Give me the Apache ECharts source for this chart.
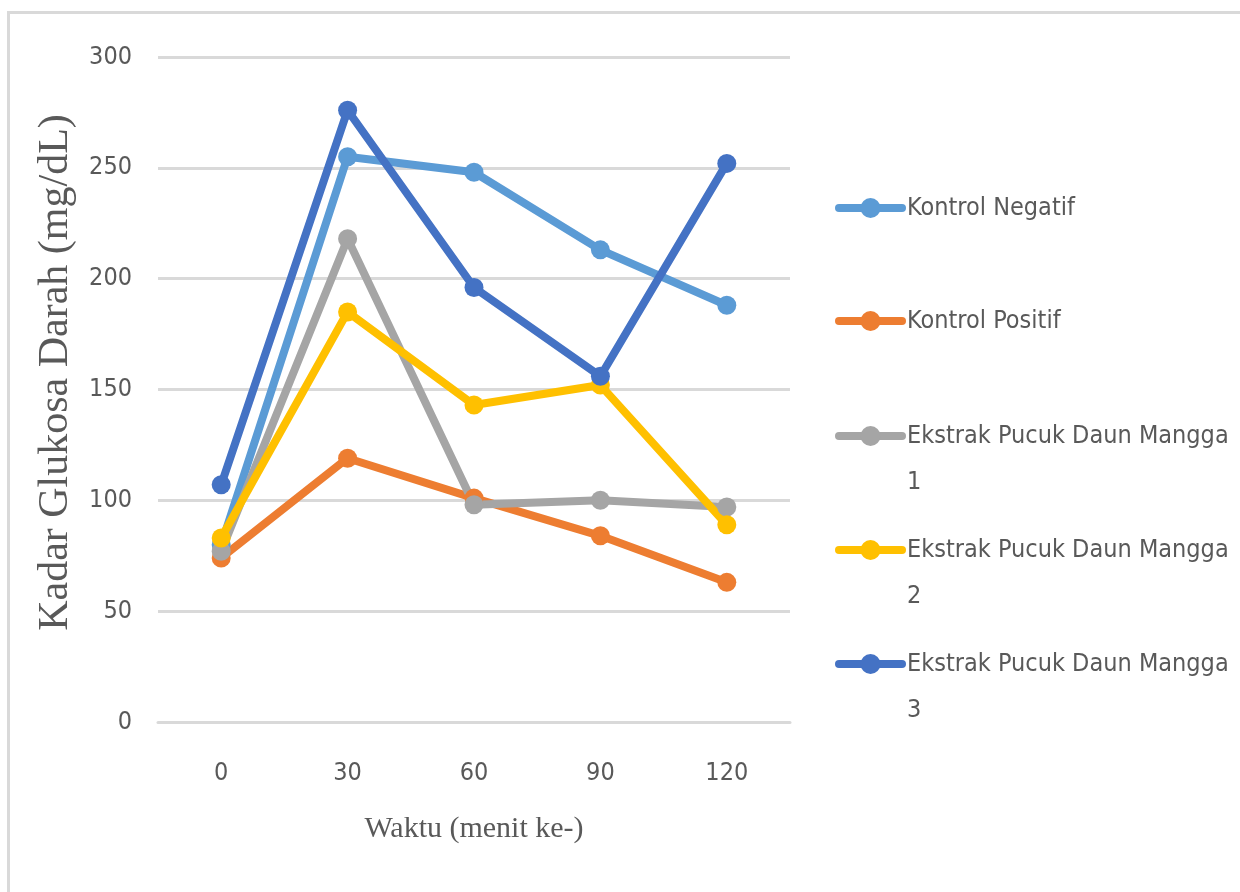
<!DOCTYPE html>
<html>
<head>
<meta charset="utf-8">
<script src="https://cdn.jsdelivr.net/npm/echarts@6/dist/echarts.min.js"></script>
<style>
html,body{margin:0;padding:0;width:1240px;height:892px;overflow:hidden;background:#fff;}
#frame{position:absolute;left:7px;top:11px;width:1400px;height:1000px;border-top:3px solid #d9d9d9;border-left:3px solid #d9d9d9;}
#chart{position:absolute;left:0;top:0;width:1240px;height:892px;}
</style>
</head>
<body>
<div id="frame"></div>
<div id="chart"></div>
<script>
const categories = ['0', '30', '60', '90', '120'];
const seriesNames = ['Kontrol Negatif', 'Kontrol Positif', 'Ekstrak Pucuk Daun Mangga 1', 'Ekstrak Pucuk Daun Mangga 2', 'Ekstrak Pucuk Daun Mangga 3'];
const kontrolNegatif = [80, 255, 248, 213, 188];
const kontrolPositif = [74, 119, 101, 84, 63];
const ekstrak1 = [77, 218, 98, 100, 97];
const ekstrak2 = [83, 185, 143, 152, 89];
const ekstrak3 = [107, 276, 196, 156, 252];
const colors = ['#5B9BD5', '#ED7D31', '#A5A5A5', '#FFC000', '#4472C4'];
const yTicks = [0, 50, 100, 150, 200, 250, 300];

const values = [kontrolNegatif, kontrolPositif, ekstrak1, ekstrak2, ekstrak3];
const legendTops = [185, 298, 367, 481, 595];
const textColor = '#595959';
const narrow = '"DejaVu Sans Condensed", "Liberation Sans Narrow", sans-serif';

const chart = echarts.init(document.getElementById('chart'));
const legends = seriesNames.map((name, i) => {
  return {
    data: [name],
    left: 835,
    top: legendTops[i],
    orient: 'vertical',
    padding: 0,
    itemWidth: 63,
    itemHeight: 25,
    selectedMode: false,
    lineStyle: { width: 8, cap: 'round' },
    formatter: function (n) {
      if (n.startsWith('Ekstrak')) {
        const idx = n.lastIndexOf(' ');
        return '\n' + n.slice(0, idx) + '\n' + n.slice(idx + 1);
      }
      return n;
    },
    textStyle: {
      fontFamily: narrow,
      fontSize: 25,
      color: textColor,
      lineHeight: 46
    }
  };
});

chart.setOption({
  animation: false,
  color: colors,
  legend: legends,
  grid: { left: 158, right: 450, top: 57, bottom: 170 },
  xAxis: {
    type: 'category',
    data: categories,
    boundaryGap: true,
    name: 'Waktu (menit ke-)',
    nameLocation: 'middle',
    nameGap: 92,
    nameTextStyle: { fontFamily: '"Liberation Serif", serif', fontSize: 30, color: textColor },
    axisLine: { lineStyle: { color: '#d9d9d9', width: 3 } },
    axisTick: { show: false },
    axisLabel: { fontFamily: narrow, fontSize: 25, color: textColor, margin: 39 }
  },
  yAxis: {
    type: 'value',
    min: yTicks[0],
    max: yTicks[yTicks.length - 1],
    interval: 50,
    name: 'Kadar Glukosa Darah (mg/dL)',
    nameLocation: 'middle',
    nameGap: 81,
    nameRotate: 90,
    nameTextStyle: { fontFamily: '"Liberation Serif", serif', fontSize: 42, color: textColor, padding: [0, 0, 0, 34] },
    axisLine: { show: false },
    axisTick: { show: false },
    axisLabel: { fontFamily: narrow, fontSize: 25, color: textColor, margin: 26 },
    splitLine: { lineStyle: { color: '#d9d9d9', width: 3 } }
  },
  series: seriesNames.map((name, i) => ({
    name: name,
    type: 'line',
    data: values[i],
    symbol: 'circle',
    symbolSize: 19,
    lineStyle: { width: 8, color: colors[i] },
    itemStyle: { color: colors[i] }
  }))
});
</script>
</body>
</html>
